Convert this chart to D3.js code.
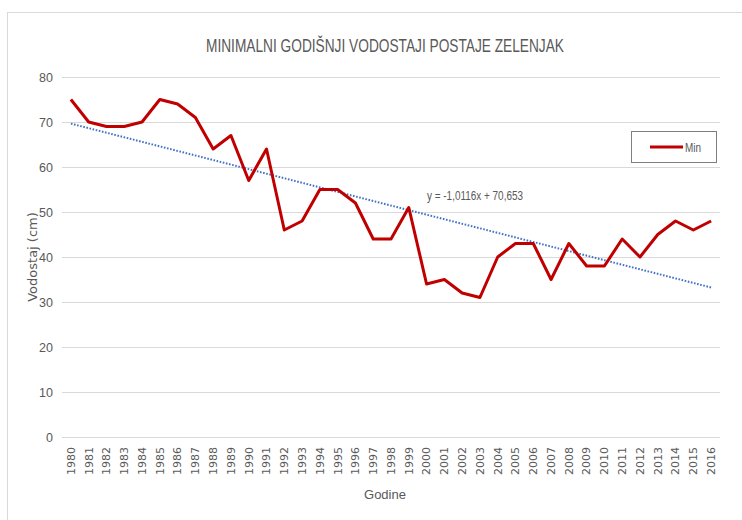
<!DOCTYPE html>
<html>
<head>
<meta charset="utf-8">
<script src="https://cdn.jsdelivr.net/npm/d3@7"></script>
<style>
  html, body { margin: 0; padding: 0; background: #fff; }
  svg { display: block; }
</style>
</head>
<body>
<svg id="chart" width="742" height="520"></svg>
<script>
// Minimum annual water levels, station Zelenjak (cm)
const years = ["1980","1981","1982","1983","1984","1985","1986","1987","1988","1989",
  "1990","1991","1992","1993","1994","1995","1996","1997","1998","1999",
  "2000","2001","2002","2003","2004","2005","2006","2007","2008","2009",
  "2010","2011","2012","2013","2014","2015","2016"];
const minLevels = [75,70,69,69,70,75,74,71,64,67,
  57,64,46,48,55,55,52,44,44,51,
  34,35,32,31,40,43,43,35,43,38,
  38,44,40,45,48,46,48];
const yTicks = [0,10,20,30,40,50,60,70,80];
// Linear trend: y = slope * x + intercept, x = 1..n
const trendSlope = -1.0116;
const trendIntercept = 70.653;

const titleText = "MINIMALNI GODIŠNJI VODOSTAJI POSTAJE ZELENJAK";
const yTitle = "Vodostaj (cm)";
const xTitle = "Godine";
const seriesName = "Min";
const equationText = "y = -1,0116x + 70,653";

const narrow = "'Liberation Sans Narrow', 'Arial Narrow', 'Liberation Sans', sans-serif";
const wide = "'DejaVu Sans', Verdana, sans-serif";
const textGray = "#595959";

const svg = d3.select("#chart");

// outer chart frame
svg.append("rect")
  .attr("x", 7.5).attr("y", 12.5)
  .attr("width", 760).attr("height", 540)
  .attr("fill", "#fff").attr("stroke", "#d9d9d9");

const plot = { left: 62, right: 720, top: 77, bottom: 437 };

const x = d3.scaleBand().domain(years).range([plot.left, plot.right]);
const xc = d => x(d) + x.bandwidth() / 2;
const y = d3.scaleLinear().domain([0, 80]).range([plot.bottom, plot.top]);

// horizontal gridlines
const yAxis = d3.axisLeft(y).tickValues(yTicks).tickSize(-(plot.right - plot.left)).tickPadding(9);
const gy = svg.append("g").attr("transform", `translate(${plot.left},0)`).call(yAxis);
gy.select(".domain").remove();
gy.selectAll(".tick line").attr("stroke", "#d9d9d9").attr("stroke-width", 1);
gy.selectAll(".tick text")
  .attr("fill", textGray)
  .style("font-family", narrow)
  .style("font-size", "12.5px");

// x axis labels (rotated)
const xAxis = d3.axisBottom(x).tickSize(0).tickPadding(0);
const gx = svg.append("g").attr("transform", `translate(0,${plot.bottom})`).call(xAxis);
gx.select(".domain").remove();
gx.selectAll(".tick text")
  .attr("fill", textGray)
  .style("font-family", wide)
  .style("font-size", "11px")
  .attr("text-anchor", "end")
  .attr("dy", "0.35em")
  .attr("transform", "translate(0,10) rotate(-90)")
  .attr("x", 0).attr("y", 0);

// trendline
const n = years.length;
const trendPts = [
  [xc(years[0]), y(trendSlope * 1 + trendIntercept)],
  [xc(years[n - 1]), y(trendSlope * n + trendIntercept)]
];
svg.append("path")
  .attr("d", d3.line()(trendPts))
  .attr("fill", "none")
  .attr("stroke", "#4472c4")
  .attr("stroke-width", 2)
  .attr("stroke-dasharray", "1.6,1.6");

// data line
const line = d3.line().x((d, i) => xc(years[i])).y(d => y(d));
svg.append("path")
  .datum(minLevels)
  .attr("d", line)
  .attr("fill", "none")
  .attr("stroke", "#c00000")
  .attr("stroke-width", 3)
  .attr("stroke-linejoin", "round");

// trend equation
svg.append("text")
  .attr("x", 427).attr("y", 200)
  .attr("fill", textGray)
  .style("font-family", narrow)
  .style("font-size", "12px")
  .attr("textLength", 96)
  .attr("lengthAdjust", "spacingAndGlyphs")
  .text(equationText);

// title
svg.append("text")
  .attr("x", 385).attr("y", 52)
  .attr("text-anchor", "middle")
  .attr("fill", textGray)
  .style("font-family", narrow)
  .style("font-size", "18px")
  .attr("textLength", 358)
  .attr("lengthAdjust", "spacingAndGlyphs")
  .text(titleText);

// axis titles
svg.append("text")
  .attr("transform", "translate(37,257) rotate(-90)")
  .attr("text-anchor", "middle")
  .attr("fill", textGray)
  .style("font-family", wide)
  .style("font-size", "13px")
  .text(yTitle);

svg.append("text")
  .attr("x", 385).attr("y", 499)
  .attr("text-anchor", "middle")
  .attr("fill", textGray)
  .style("font-family", narrow)
  .style("font-size", "13.5px")
  .attr("textLength", 42)
  .attr("lengthAdjust", "spacingAndGlyphs")
  .text(xTitle);

// legend
const lg = svg.append("g");
lg.append("rect")
  .attr("x", 631.5).attr("y", 131.5)
  .attr("width", 85).attr("height", 31)
  .attr("fill", "#fff")
  .attr("stroke", "#7f7f7f").attr("stroke-width", 1);
lg.append("line")
  .attr("x1", 650).attr("x2", 683)
  .attr("y1", 147).attr("y2", 147)
  .attr("stroke", "#c00000").attr("stroke-width", 3);
lg.append("text")
  .attr("x", 685).attr("y", 151.5)
  .attr("fill", textGray)
  .style("font-family", narrow)
  .style("font-size", "12.5px")
  .attr("textLength", 16)
  .attr("lengthAdjust", "spacingAndGlyphs")
  .text(seriesName);
</script>
</body>
</html>
